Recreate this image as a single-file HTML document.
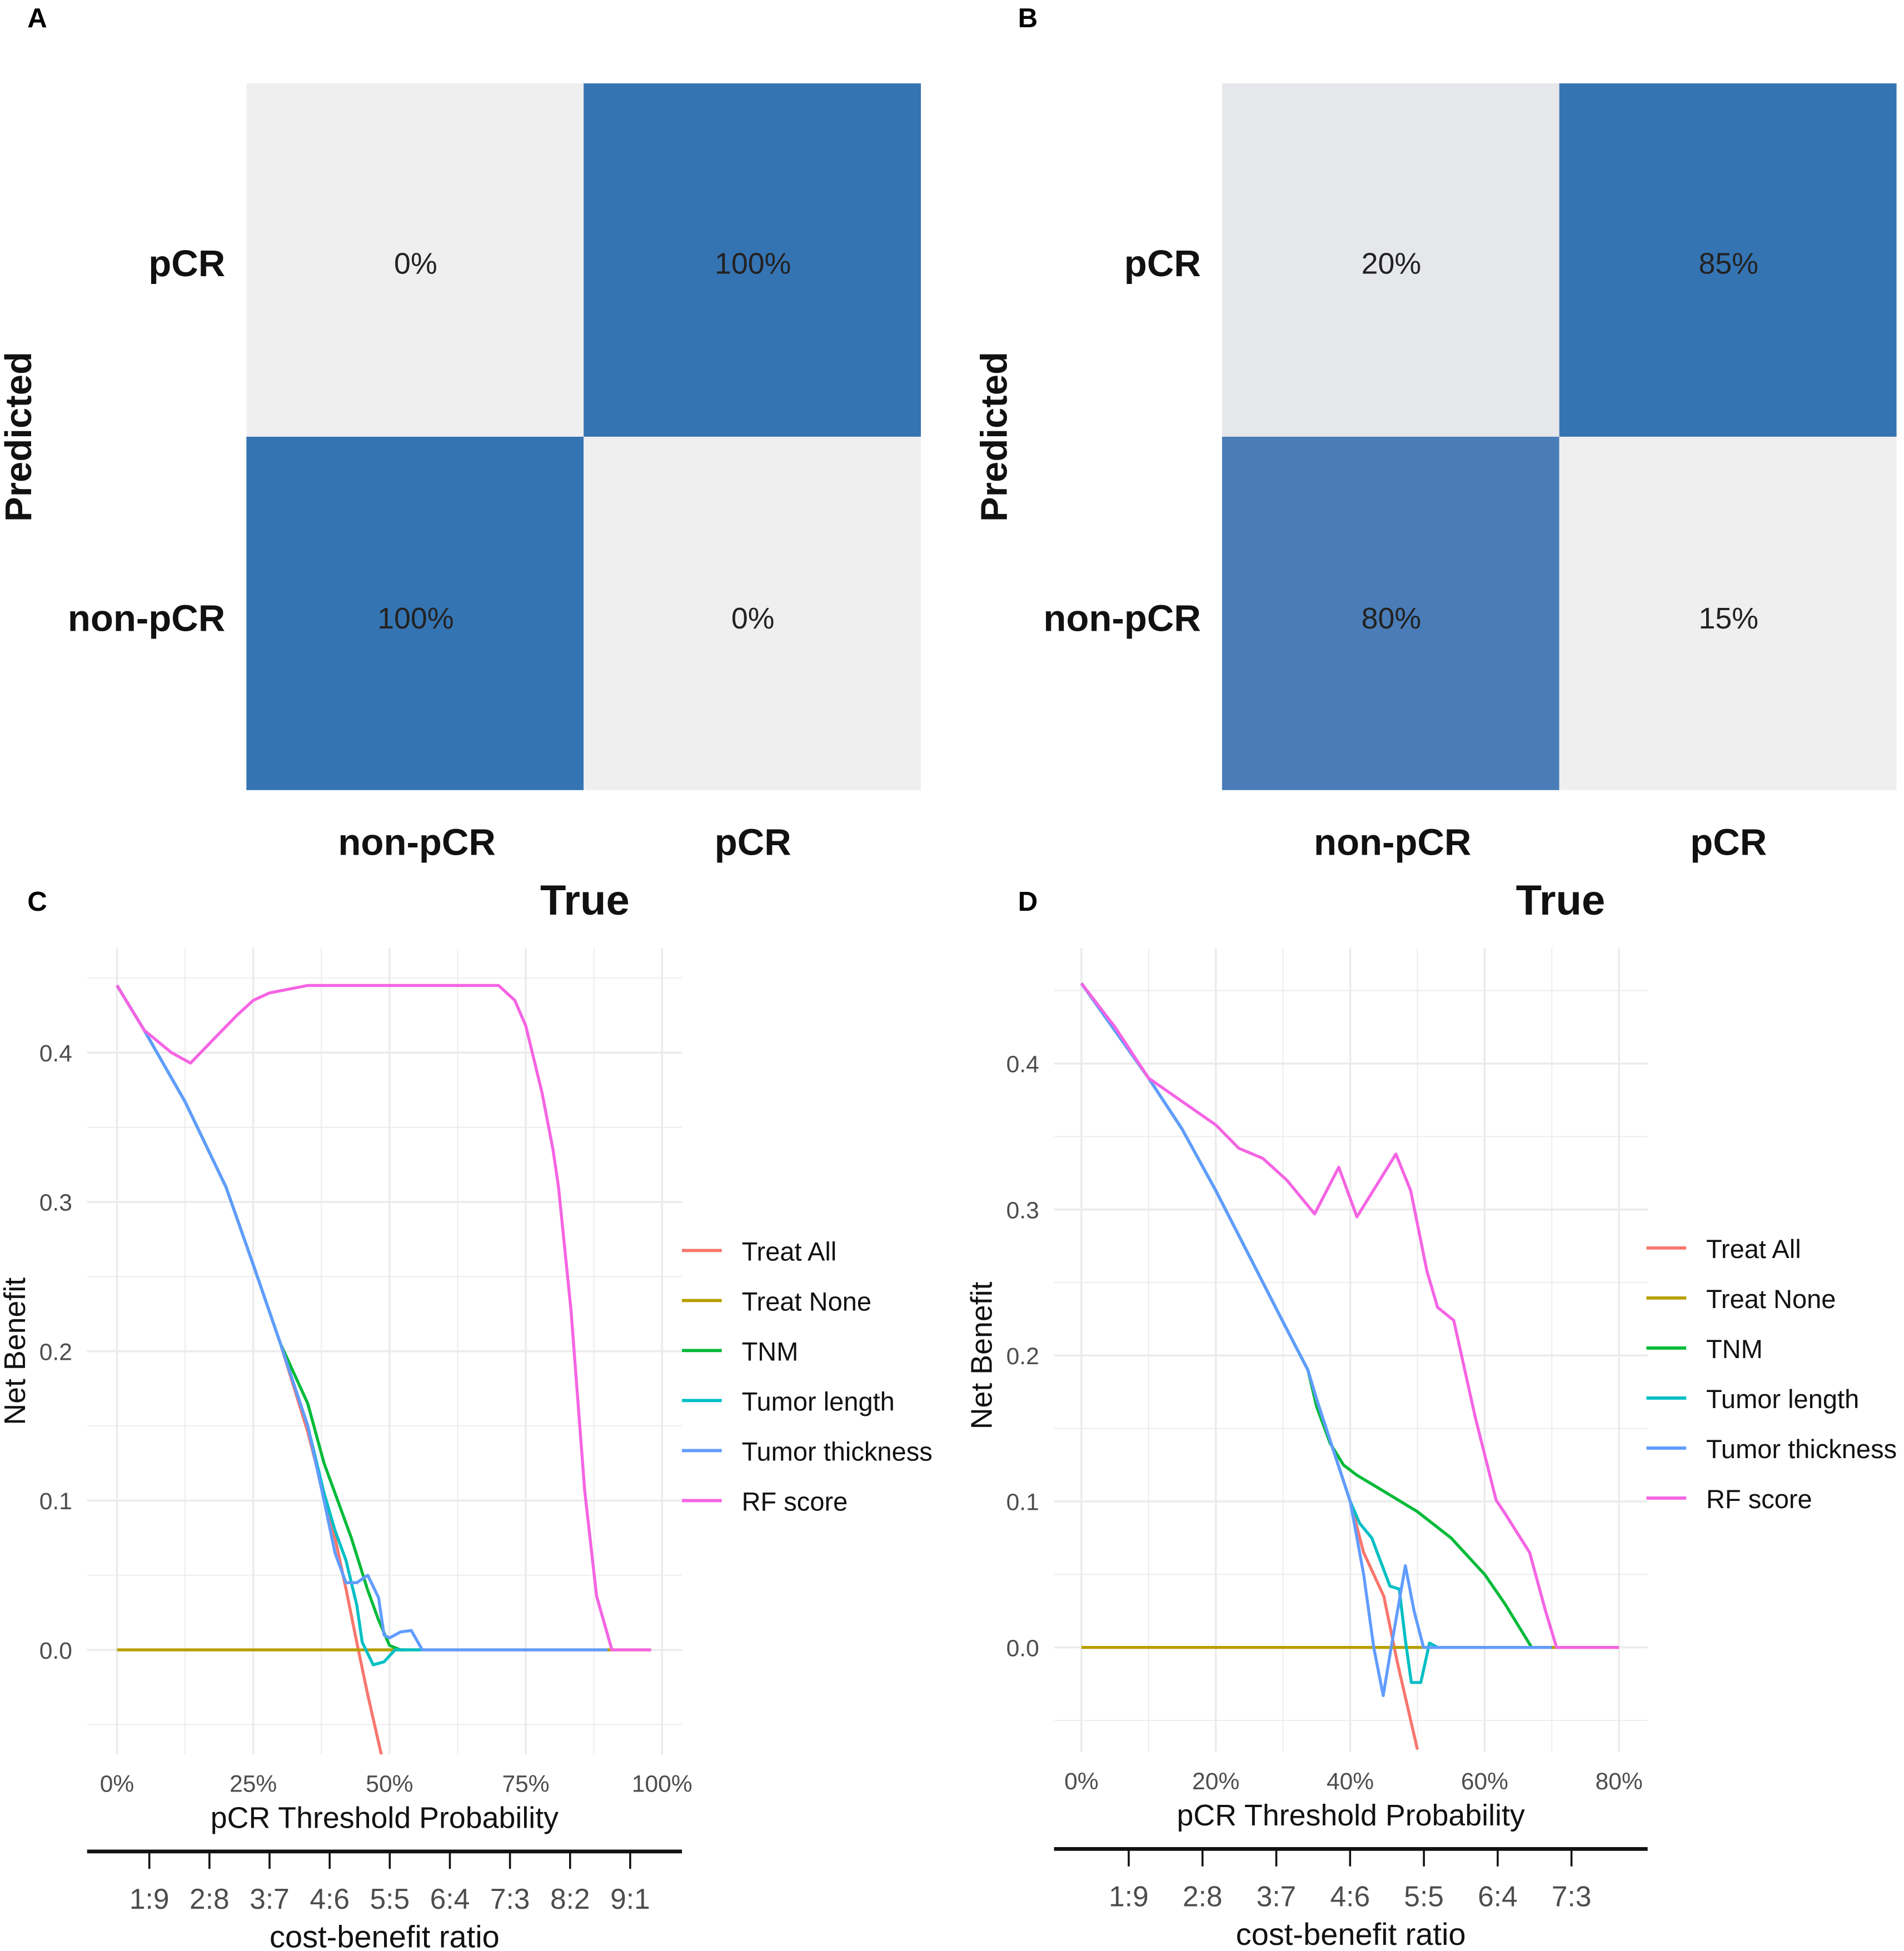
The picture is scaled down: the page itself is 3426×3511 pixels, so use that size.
<!DOCTYPE html>
<html><head><meta charset="utf-8"><style>
html,body{margin:0;padding:0;background:#fff}
svg{display:block}
text{font-family:"Liberation Sans",Arial,sans-serif}
</style></head><body>
<svg id="fig" width="3426" height="3511" viewBox="0 0 1530 1568" preserveAspectRatio="none" xmlns="http://www.w3.org/2000/svg">
<defs>
<clipPath id="clipC"><rect x="70" y="762" width="478" height="648"/></clipPath>
<clipPath id="clipD"><rect x="847" y="762" width="477" height="646"/></clipPath>
</defs>
<g>
<text x="22" y="22" font-size="22" font-weight="bold">A</text>
<rect x="198" y="67" width="271" height="284" fill="#efefef"/>
<rect x="469" y="67" width="271" height="284" fill="#3574b3"/>
<rect x="198" y="351" width="271" height="284" fill="#3574b3"/>
<rect x="469" y="351" width="271" height="284" fill="#efefef"/>
<g font-size="24" fill="#222" text-anchor="middle">
<text x="334" y="220">0%</text>
<text x="605" y="220">100%</text>
<text x="334" y="505">100%</text>
<text x="605" y="505">0%</text>
</g>
<g font-size="30" font-weight="bold" fill="#111">
<text x="181" y="222" text-anchor="end">pCR</text>
<text x="181" y="507" text-anchor="end">non-pCR</text>
<text x="335" y="687" text-anchor="middle">non-pCR</text>
<text x="605" y="687" text-anchor="middle">pCR</text>
<text transform="translate(25,351) rotate(-90)" text-anchor="middle">Predicted</text>
<text x="470" y="735" text-anchor="middle" font-size="34">True</text>
</g>
</g>
<g>
<text x="818" y="22" font-size="22" font-weight="bold">B</text>
<rect x="982" y="67" width="271" height="284" fill="#e5e7ea"/>
<rect x="1253" y="67" width="271" height="284" fill="#3574b3"/>
<rect x="982" y="351" width="271" height="284" fill="#4a7db8"/>
<rect x="1253" y="351" width="271" height="284" fill="#efefef"/>
<g font-size="24" fill="#222" text-anchor="middle">
<text x="1118" y="220">20%</text>
<text x="1389" y="220">85%</text>
<text x="1118" y="505">80%</text>
<text x="1389" y="505">15%</text>
</g>
<g font-size="30" font-weight="bold" fill="#111">
<text x="965" y="222" text-anchor="end">pCR</text>
<text x="965" y="507" text-anchor="end">non-pCR</text>
<text x="1119" y="687" text-anchor="middle">non-pCR</text>
<text x="1389" y="687" text-anchor="middle">pCR</text>
<text transform="translate(809,351) rotate(-90)" text-anchor="middle">Predicted</text>
<text x="1254" y="735" text-anchor="middle" font-size="34">True</text>
</g>
</g>
<text x="22" y="732" font-size="22" font-weight="bold">C</text>
<text x="818" y="732" font-size="22" font-weight="bold">D</text>
<g id="panelC"></g>
<g id="panelD"></g>
</svg>
<script>
const seriesNames = ["Treat All","Treat None","TNM","Tumor length","Tumor thickness","RF score"];
const seriesColors = ["#f8766d","#b79f00","#00ba38","#00bfc4","#619cff","#f564e3"];
// Panel C
const cAllX = [0,5,12.5,20,25,30,35,40,42,44,46,48.5];
const cAllY = [0.445,0.415,0.367,0.31,0.258,0.205,0.146,0.075,0.041,0.005,-0.03,-0.07];
const cNoneX = [0,98];
const cNoneY = [0,0];
const cTnmX = [0,5,12.5,20,25,30,35,38,40,43,46,48,50,52,53];
const cTnmY = [0.445,0.415,0.367,0.31,0.258,0.205,0.165,0.125,0.105,0.075,0.04,0.02,0.003,0,0];
const cLenX = [0,5,12.5,20,25,30,35,38,40,42,44,45,47,49,51,56];
const cLenY = [0.445,0.415,0.367,0.31,0.258,0.205,0.15,0.105,0.08,0.06,0.03,0.005,-0.01,-0.008,0,0];
const cThkX = [0,5,12.5,20,25,30,35,38,40,42,44,46,48,49,50,52,54,56,90];
const cThkY = [0.445,0.415,0.367,0.31,0.258,0.205,0.15,0.1,0.065,0.045,0.045,0.05,0.035,0.01,0.008,0.012,0.013,0,0];
const cRfX = [0,5,10,13.5,18,22,25,28,35,68,70,73,75,78,80,81,83.3,85.8,88,90.8,98];
const cRfY = [0.445,0.415,0.4,0.393,0.41,0.425,0.435,0.44,0.445,0.445,0.445,0.435,0.418,0.373,0.335,0.31,0.227,0.107,0.036,0,0];
const cXTicks = ["0%","25%","50%","75%","100%"];
const cXTickVals = [0,25,50,75,100];
const cRatioLabels = ["1:9","2:8","3:7","4:6","5:5","6:4","7:3","8:2","9:1"];
const cRatioVals = [1,2,3,4,5,6,7,8,9];
// Panel D
const dAllX = [0,10,15,20,25,30,33.7,35,40,42,45,47,50];
const dAllY = [0.455,0.39,0.355,0.313,0.268,0.223,0.19,0.17,0.1,0.065,0.035,-0.01,-0.07];
const dNoneX = [0,80];
const dNoneY = [0,0];
const dTnmX = [0,10,15,20,25,30,33.7,35,37,39,41,45,50,55,58,60,63,67];
const dTnmY = [0.455,0.39,0.355,0.313,0.268,0.223,0.19,0.165,0.14,0.125,0.118,0.107,0.093,0.075,0.06,0.05,0.03,0];
const dLenX = [0,10,15,20,25,30,33.7,35,40,41.4,43.2,45.9,47.3,48.2,49.1,50.5,51.8,53];
const dLenY = [0.455,0.39,0.355,0.313,0.268,0.223,0.19,0.17,0.1,0.085,0.075,0.042,0.04,0.005,-0.024,-0.024,0.003,0];
const dThkX = [0,10,15,20,25,30,33.7,35,40,42,43.5,44.9,46.1,48.2,49.5,50.9,70];
const dThkY = [0.455,0.39,0.355,0.313,0.268,0.223,0.19,0.17,0.1,0.05,0,-0.033,0,0.056,0.025,0,0];
const dRfX = [0,5,10,20,23.4,27,30.6,34.7,38.3,41,46.8,49,51.4,53,55.4,58.6,61.7,63,66.7,69,70.7,80];
const dRfY = [0.455,0.425,0.39,0.358,0.342,0.335,0.32,0.297,0.329,0.295,0.338,0.313,0.258,0.233,0.224,0.158,0.101,0.092,0.065,0.026,0,0];
const dXTicks = ["0%","20%","40%","60%","80%"];
const dXTickVals = [0,20,40,60,80];
const dRatioLabels = ["1:9","2:8","3:7","4:6","5:5","6:4","7:3"];
const dRatioVals = [1,2,3,4,5,6,7];
const yTicks = ["0.0","0.1","0.2","0.3","0.4"];
const yTickVals = [0,0.1,0.2,0.3,0.4];

const NS="http://www.w3.org/2000/svg";
function mk(tag, attrs, parent){const e=document.createElementNS(NS,tag);for(const k in attrs)e.setAttribute(k,attrs[k]);parent.appendChild(e);return e;}

function drawPanel(g, cfg){
  const sx=v=>cfg.x0+v*cfg.kx, sy=v=>cfg.y0-v*cfg.ky, sr=v=>cfg.r0+v*cfg.rk;
  for(let v=0; v<=cfg.xmax+0.001; v+=cfg.xstep/2){
    const l=mk("line",{x1:sx(v),x2:sx(v),y1:cfg.top,y2:cfg.bot,stroke:"#ebebeb","stroke-width":v%cfg.xstep===0?1.6:0.8},g);
    
    
  }
  for(let v=-0.05; v<=0.451; v+=0.05){
    const major=Math.abs(Math.round(v*10)-v*10)<0.01;
    const l=mk("line",{x1:cfg.left,x2:cfg.right,y1:sy(v),y2:sy(v),stroke:"#ebebeb","stroke-width":major?1.6:0.8},g);
    
    
  }
  yTickVals.forEach((v,i)=>{
    const t=mk("text",{x:cfg.left-12,y:sy(v)+7,"text-anchor":"end","font-size":19,fill:"#4d4d4d"},g);
    t.textContent=yTicks[i];
    
    
  });
  cfg.xt.forEach((v,i)=>{
    const t=mk("text",{x:sx(v),y:cfg.bot+30,"text-anchor":"middle","font-size":19,fill:"#4d4d4d"},g);
    t.textContent=cfg.xl[i];
    
    
  });
  const xt=mk("text",{x:(cfg.left+cfg.right)/2,y:cfg.bot+59,"text-anchor":"middle","font-size":24,fill:"#111"},g);
  xt.textContent="pCR Threshold Probability";
  
  
  const yt=mk("text",{transform:`translate(${cfg.left-50},${sy(0.2)}) rotate(-90)`,"text-anchor":"middle","font-size":24,fill:"#111"},g);
  yt.textContent="Net Benefit";
  
  
  const sg=mk("g",{"clip-path":cfg.clip},g);
  cfg.series.forEach((s,i)=>{
    const pts=s[0].map((x,j)=>sx(x).toFixed(1)+","+sy(s[1][j]).toFixed(1)).join(" ");
    const p=mk("polyline",{points:pts,fill:"none",stroke:seriesColors[i],"stroke-width":2.4,"stroke-linejoin":"round"},sg);
    
    
  });
  seriesNames.forEach((n,i)=>{
    const y=cfg.legY+i*40.2;
    const l=mk("line",{x1:cfg.legX,x2:cfg.legX+32,y1:y,y2:y,stroke:seriesColors[i],"stroke-width":2.6},g);
    
    
    const t=mk("text",{x:cfg.legX+48,y:y+8,"font-size":21,fill:"#111"},g);
    t.textContent=n;
    
    
  });
  const ax=mk("line",{x1:cfg.left,x2:cfg.right,y1:cfg.ratioY,y2:cfg.ratioY,stroke:"#111","stroke-width":3},g);
  
  
  cfg.rv.forEach((v,i)=>{
    const x=sr(v);
    const tk=mk("line",{x1:x,x2:x,y1:cfg.ratioY,y2:cfg.ratioY+14,stroke:"#111","stroke-width":1.6},g);
    
    
    const t=mk("text",{x:x,y:cfg.ratioY+46,"text-anchor":"middle","font-size":23,fill:"#4d4d4d"},g);
    t.textContent=cfg.rl[i];
    
    
  });
  const ct=mk("text",{x:(cfg.left+cfg.right)/2,y:cfg.ratioY+77,"text-anchor":"middle","font-size":25,fill:"#111"},g);
  ct.textContent="cost-benefit ratio";
  
  
}

drawPanel(document.getElementById("panelC"),{
  x0:94,kx:4.38,y0:1326,ky:1200,xmax:100,xstep:25,left:70,right:548,top:762,bot:1410,
  r0:71.7,rk:48.3,
  clip:"url(#clipC)",xt:cXTickVals,xl:cXTicks,rv:cRatioVals,rl:cRatioLabels,ratioY:1488,legX:548,legY:1005,
  series:[[cAllX,cAllY],[cNoneX,cNoneY],[cTnmX,cTnmY],[cLenX,cLenY],[cThkX,cThkY],[cRfX,cRfY]]
});
drawPanel(document.getElementById("panelD"),{
  x0:869,kx:5.4,y0:1324,ky:1173,xmax:80,xstep:20,left:847,right:1324,top:762,bot:1408,
  r0:847.7,rk:59.3,
  clip:"url(#clipD)",xt:dXTickVals,xl:dXTicks,rv:dRatioVals,rl:dRatioLabels,ratioY:1486,legX:1323,legY:1003,
  series:[[dAllX,dAllY],[dNoneX,dNoneY],[dTnmX,dTnmY],[dLenX,dLenY],[dThkX,dThkY],[dRfX,dRfY]]
});
</script>
</body></html>
